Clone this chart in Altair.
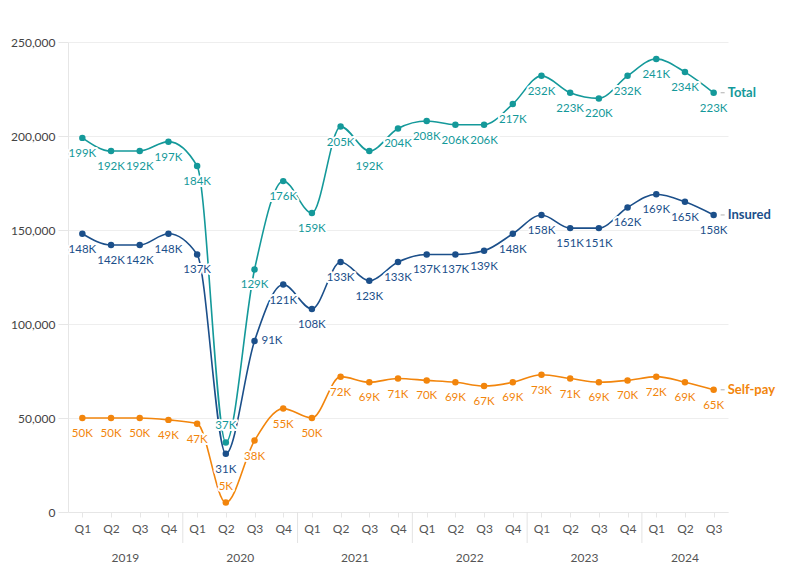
import altair as alt
import pandas as pd

# ---- data (values in thousands) ----
quarters = ["Q1", "Q2", "Q3", "Q4"] * 5 + ["Q1", "Q2", "Q3"]
years = [2019] * 4 + [2020] * 4 + [2021] * 4 + [2022] * 4 + [2023] * 4 + [2024] * 3
total = [199, 192, 192, 197, 184, 37, 129, 176, 159, 205, 192, 204, 208, 206, 206, 217,
         232, 223, 220, 232, 241, 234, 223]
insured = [148, 142, 142, 148, 137, 31, 91, 121, 108, 133, 123, 133, 137, 137, 139, 148,
           158, 151, 151, 162, 169, 165, 158]
selfpay = [50, 50, 50, 49, 47, 5, 38, 55, 50, 72, 69, 71, 70, 69, 67, 69,
           73, 71, 69, 70, 72, 69, 65]
series_names = ["Total", "Insured", "Self-pay"]
series_colors = ["#14999a", "#1b4f8a", "#f2850c"]

# label placement (below / above / right)
total_pos = ["below"] * 23
total_pos[5] = "above"
insured_pos = ["below"] * 23
insured_pos[6] = "right"
selfpay_pos = ["below"] * 23
selfpay_pos[5] = "above"

rows = []
for name, vals, poss in zip(series_names, [total, insured, selfpay],
                            [total_pos, insured_pos, selfpay_pos]):
    for i, (q, y, v, p) in enumerate(zip(quarters, years, vals, poss)):
        rows.append({"idx": i, "quarter": q, "year": str(y), "series": name,
                     "value": v * 1000, "label": f"{v}K", "pos": p})
df = pd.DataFrame(rows)

year_df = pd.DataFrame({"idx": list(range(len(years))), "year": [str(y) for y in years]})
sep_df = pd.DataFrame({"idx": [i - 0.5 for i in range(1, len(years)) if years[i] != years[i - 1]]})

W, H = 660, 470
FONT = "Lato"
LABEL_SIZE = 11.5

color = alt.Color("series:N", scale=alt.Scale(domain=series_names, range=series_colors), legend=None)

x_axis = alt.Axis(values=list(range(len(years))), labelExpr="'Q' + ((datum.value % 4) + 1)",
                  labelOverlap=False, labelFlush=False,
                  grid=False, domain=True, domainColor="#e6e6e6", tickColor="#e6e6e6",
                  tickSize=5, labelPadding=6, labelFontSize=12, labelColor="#555",
                  labelFont=FONT)
x_scale = alt.Scale(domain=[-0.5, len(years) - 0.5], nice=False, zero=False)
y_axis = alt.Axis(values=[0, 50000, 100000, 150000, 200000, 250000],
                  labelExpr="format(datum.value, ',')",
                  grid=True, gridColor="#eeeeee", domain=True, domainColor="#e6e6e6",
                  tickColor="#e6e6e6", tickSize=10, labelPadding=3, labelFontSize=12,
                  labelColor="#444", labelFont=FONT)
y_scale = alt.Scale(domain=[0, 250000], nice=False)

x = alt.X("idx:Q", title=None, scale=x_scale, axis=x_axis)
y = alt.Y("value:Q", title=None, scale=y_scale, axis=y_axis)

base = alt.Chart(df)

lines = base.mark_line(interpolate="monotone", strokeWidth=1.6).encode(x=x, y=y, color=color)
points = base.mark_circle(size=42, opacity=1).encode(x=x, y=y, color=color)

halos, texts = [], []
for pos, kw in [("below", dict(dy=16, align="center")),
                ("above", dict(dy=-16, align="center")),
                ("right", dict(dx=7, align="left"))]:
    sub = base.transform_filter(alt.datum.pos == pos)
    halos.append(sub.mark_text(font=FONT, fontSize=LABEL_SIZE, baseline="middle", fill="white",
                               stroke="white", strokeWidth=4, strokeJoin="round", **kw).encode(
        x=x, y=y, text="label:N"))
    texts.append(sub.mark_text(font=FONT, fontSize=LABEL_SIZE, baseline="middle", **kw).encode(
        x=x, y=y, text="label:N", color=color))

last = base.transform_filter(alt.datum.idx == len(years) - 1)
end_dash = last.mark_rule(xOffset=7, x2Offset=11, color="#b0b0b0", strokeWidth=1).encode(
    x=x, x2="idx:Q", y=y)
end_label = last.mark_text(align="left", dx=14, baseline="middle", font=FONT, fontSize=13,
                           fontWeight="bold").encode(x=x, y=y, text="series:N", color=color)

seps = alt.Chart(sep_df).mark_rule(color="#e3e3e3", strokeWidth=1).encode(
    x=x, y=alt.value(H), y2=alt.value(H + 31))

year_labels = alt.Chart(year_df).transform_aggregate(
    idx="mean(idx)", groupby=["year"]
).mark_text(font=FONT, fontSize=12, color="#555", baseline="middle").encode(
    x=x, y=alt.value(H + 46), text="year:N")

chart = alt.layer(lines, seps, points, *halos, *texts, end_dash, end_label, year_labels).properties(
    width=W, height=H, padding={"left": 2, "top": 28, "right": 5, "bottom": 5}
).configure_view(stroke=None).configure_axisX(labelOverlap=False)

chart.save("out.html", embed_options={"renderer": "svg", "actions": False})
